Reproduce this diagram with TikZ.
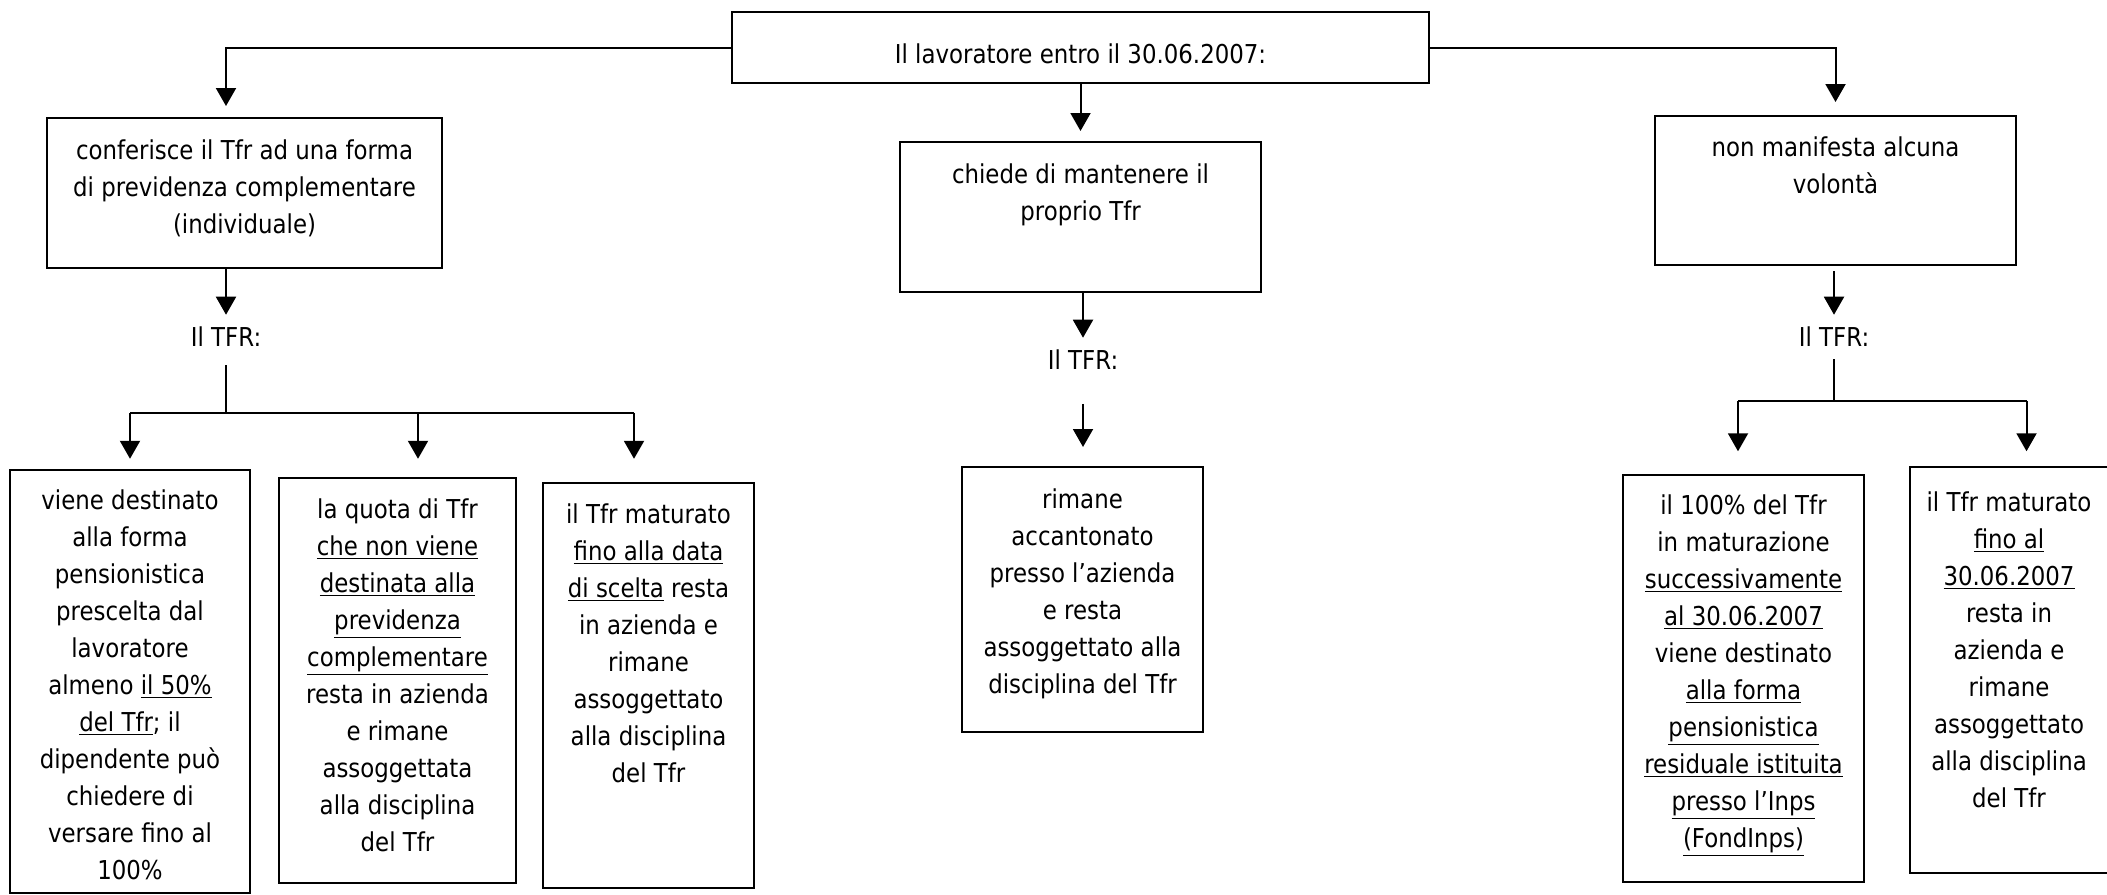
\documentclass[tikz,border=0pt]{standalone}
\usepackage{fontspec}
\setmainfont{DejaVu Sans}[FakeStretch=0.88]
\usetikzlibrary{arrows.meta}

\begin{document}
\begin{tikzpicture}[x=0.5pt, y=-0.5pt,
        font=\fontsize{13}{18.5}\selectfont,
        box/.style={draw, line width=1pt, inner sep=0pt},
        txt/.style={anchor=north, align=center, inner sep=0pt},
        lbl/.style={inner xsep=2pt, inner ysep=6pt},
        ln/.style={line width=1pt},
        arr/.style={line width=1pt, -{Triangle[length=9pt,width=10pt]}}]
    \path[use as bounding box, fill=white] (0,0) rectangle (2107,894);

    \node[box, minimum width=348.5pt, minimum height=35.5pt] (top) at (1080.5,47.5) {};
    \node[txt] (topt) at ([yshift=-16pt]top.north) {Il lavoratore entro il 30.06.2007:};

    \node[box, minimum width=197.5pt, minimum height=75pt] (conf) at (244.5,193) {};
    \node[txt] (conft) at ([yshift=-11pt]conf.north) {conferisce il Tfr ad una forma\\ di previdenza complementare\\ (individuale)};
    \node[box, minimum width=180.5pt, minimum height=75pt] (mant) at (1080.5,217) {};
    \node[txt] (mantt) at ([yshift=-11pt]mant.north) {chiede di mantenere il\\ proprio Tfr};
    \node[box, minimum width=180.5pt, minimum height=74.5pt] (nonm) at (1835.5,190.5) {};
    \node[txt] (nonmt) at ([yshift=-10.5pt]nonm.north) {non manifesta alcuna\\ volontà};

    \node[lbl] (tfrA) at (226,337) {Il TFR:};
    \node[lbl] (tfrB) at (1083,360) {Il TFR:};
    \node[lbl] (tfrC) at (1834,337) {Il TFR:};

    \node[box, minimum width=120pt, minimum height=211.5pt] (vien) at (130,681.5) {};
    \node[txt] (vient) at ([yshift=-10pt]vien.north) {viene destinato\\ alla forma\\ pensionistica\\ prescelta dal\\ lavoratore\\ almeno \underline{il 50\%}\\ \underline{del Tfr}; il\\ dipendente può\\ chiedere di\\ versare fino al\\ 100\%};
    \node[box, minimum width=118.5pt, minimum height=202.5pt] (quot) at (397.5,680.5) {};
    \node[txt] (quott) at ([yshift=-10.5pt]quot.north) {la quota di Tfr\\ \underline{che non viene}\\ \underline{destinata alla}\\ \underline{previdenza}\\ \underline{complementare}\\ resta in azienda\\ e rimane\\ assoggettata\\ alla disciplina\\ del Tfr};
    \node[box, minimum width=105.5pt, minimum height=202.5pt] (scel) at (648.5,685.5) {};
    \node[txt] (scelt) at ([yshift=-10.5pt]scel.north) {il Tfr maturato\\ \underline{fino alla data}\\ \underline{di scelta} resta\\ in azienda e\\ rimane\\ assoggettato\\ alla disciplina\\ del Tfr};

    \node[box, minimum width=120.5pt, minimum height=132.5pt] (rima) at (1082.5,599.5) {};
    \node[txt] (rimat) at ([yshift=-11pt]rima.north) {rimane\\ accantonato\\ presso l’azienda\\ e resta\\ assoggettato alla\\ disciplina del Tfr};

    \node[box, minimum width=120.5pt, minimum height=203.5pt] (cent) at (1743.5,678.5) {};
    \node[txt] (centt) at ([yshift=-10pt]cent.north) {il 100\% del Tfr\\ in maturazione\\ \underline{successivamente}\\ \underline{al 30.06.2007}\\ viene destinato\\ \underline{alla forma}\\ \underline{pensionistica}\\ \underline{residuale istituita}\\ \underline{presso l’Inps}\\ \underline{(FondInps)}};
    \node[box, minimum width=99pt, minimum height=203pt] (fino) at (2009,670) {};
    \node[txt] (finot) at ([yshift=-12.5pt]fino.north) {il Tfr maturato\\ \underline{fino al}\\ \underline{30.06.2007}\\ resta in\\ azienda e\\ rimane\\ assoggettato\\ alla disciplina\\ del Tfr};

    \draw[arr, shorten >=5.5pt] (top.west) -| (conf.north -| tfrA);
    \draw[arr, shorten >=5pt] (top.south) -- (mant.north);
    \draw[arr, shorten >=6.5pt] (top.east) -| (nonm.north);

    \draw[arr] (conf.south -| tfrA) -- (tfrA.north);
    \draw[arr] (mant.south -| tfrB) -- (tfrB.north);
    \draw[arr, shorten <=2.5pt] (nonm.south -| tfrC) -- (tfrC.north);
    \draw[arr, shorten <=10.75pt, shorten >=9.5pt] (tfrB.south) -- (rima.north -| tfrB);

    \draw[ln, shorten <=3pt] (tfrA.south) -- ++(0,53.5) coordinate (forkA);
    \coordinate (inA) at (vien.north);
    \coordinate (inB) at ([xshift=10.25pt]quot.north);
    \coordinate (inC) at ([xshift=-7.25pt]scel.north);
    \draw[ln] (forkA -| inA) -- (forkA -| inC);
    \draw[arr] (forkA -| inA) -- ++(0,46);
    \draw[arr] (forkA -| inB) -- ++(0,46);
    \draw[arr] (forkA -| inC) -- ++(0,46);

    \draw[ln] (tfrC.south) -- ++(0,42) coordinate (forkC);
    \coordinate (inD) at ([xshift=-2.75pt]cent.north);
    \coordinate (inE) at ([xshift=8.75pt]fino.north);
    \draw[ln] (forkC -| inD) -- (forkC -| inE);
    \draw[arr] (forkC -| inD) -- ++(0,50);
    \draw[arr] (forkC -| inE) -- ++(0,50);
\end{tikzpicture}
\end{document}
